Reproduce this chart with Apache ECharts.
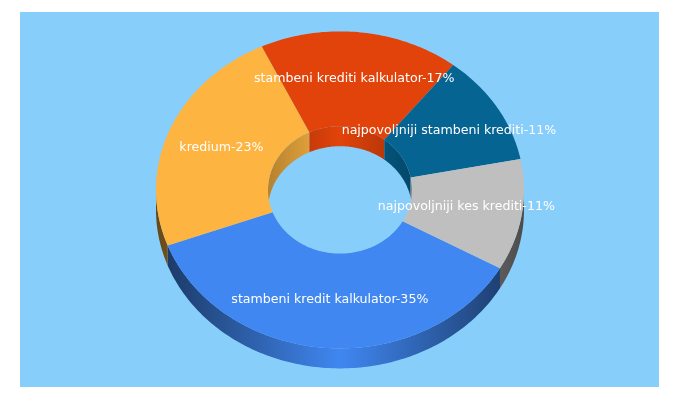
<!DOCTYPE html>
<html>
<head>
<meta charset="utf-8">
<style>html,body{margin:0;padding:0;background:#fff}#c{width:680px;height:400px}</style>
<script src="https://cdn.jsdelivr.net/npm/echarts@6/dist/echarts.min.js"></script>
</head>
<body>
<div id="c"></div>
<script>
const categories = ['stambeni kredit kalkulator', 'kredium', 'stambeni krediti kalkulator', 'najpovoljniji stambeni krediti', 'najpovoljniji kes krediti'];
const values = [35, 23, 17, 11, 11];
const colors = ['#4087f1', '#fdb441', '#e2430a', '#056492', '#bfbfbf'];

const G = { cx: 340, cy: 189.9, rx: 184, ry: 158.5, hx: 72, hy: 63.7, depth: 20, start: 119.6 };
const total = values.reduce((a, b) => a + b, 0);
function sliceAngles(i) {
  let a = G.start;
  for (let k = 0; k < i; k++) a += values[k] / total * 360;
  return [a, a + values[i] / total * 360];
}
function pt(deg, rx, ry, dy) {
  const t = deg * Math.PI / 180;
  return [G.cx + rx * Math.sin(t), G.cy - ry * Math.cos(t) + (dy || 0)];
}
function arc(a0, a1, rx, ry, dy) {
  const n = Math.max(2, Math.ceil(Math.abs(a1 - a0)));
  const out = [];
  for (let j = 0; j <= n; j++) out.push(pt(a0 + (a1 - a0) * j / n, rx, ry, dy));
  return out;
}
function shade(hex, f) {
  const n = parseInt(hex.slice(1), 16);
  const c = [n >> 16 & 255, n >> 8 & 255, n & 255].map(v => Math.round(v * f));
  return 'rgb(' + c.join(',') + ')';
}
function wallFill(color, rx, edge) {
  return {
    type: 'linear', global: true,
    x: G.cx - rx, y: 0, x2: G.cx + rx, y2: 0,
    colorStops: [
      { offset: 0, color: shade(color, edge) },
      { offset: 0.5, color: color },
      { offset: 1, color: shade(color, edge) }
    ]
  };
}
// intersect [a0,a1] with a visible window, also trying full-turn offsets
function clip(a0, a1, w0, w1) {
  const parts = [];
  for (const off of [-360, 0, 360]) {
    const s = Math.max(a0 + off, w0), e = Math.min(a1 + off, w1);
    if (e > s) parts.push([s, e]);
  }
  return parts;
}
function wallGroup(i, rx, ry, w0, w1, edge) {
  const [a0, a1] = sliceAngles(i);
  const children = clip(a0, a1, w0, w1).map(([s, e]) => ({
    type: 'polygon',
    shape: { points: arc(s, e, rx, ry, 0).concat(arc(e, s, rx, ry, G.depth)) },
    style: { fill: wallFill(colors[i], rx, edge) },
    silent: true
  }));
  return { type: 'group', children };
}
const seriesData = values.map((v, i) => [v, i]);
const option = {
  animation: false,
  graphic: [{ type: 'rect', z: -10, silent: true, shape: { x: 20, y: 12, width: 639, height: 375 }, style: { fill: '#87cefa' } }],
  series: [
    { type: 'custom', coordinateSystem: 'none', z: 1, silent: true, data: seriesData,
      renderItem: (p) => wallGroup(p.dataIndex, G.rx, G.ry, 90, 270, 0.4) },
    { type: 'custom', coordinateSystem: 'none', z: 2, silent: true, data: seriesData,
      renderItem: (p) => wallGroup(p.dataIndex, G.hx, G.hy, -90, 90, 0.72) },
    { type: 'custom', coordinateSystem: 'none', z: 3, silent: true, data: seriesData,
      renderItem: (p) => {
        const [a0, a1] = sliceAngles(p.dataIndex);
        return {
          type: 'polygon',
          shape: { points: arc(a0, a1, G.rx, G.ry).concat(arc(a1, a0, G.hx, G.hy)) },
          style: { fill: colors[p.dataIndex] },
          silent: true
        };
      } },
    { type: 'custom', coordinateSystem: 'none', z: 4, silent: true, data: seriesData,
      renderItem: (p, api) => {
        const [a0, a1] = sliceAngles(p.dataIndex);
        const m = pt((a0 + a1) / 2, (G.rx + G.hx) / 2, (G.ry + G.hy) / 2);
        return {
          type: 'text', x: m[0], y: m[1] - 0.5, silent: true,
          style: {
            text: categories[p.dataIndex] + '-' + api.value(0) + '%',
            fill: '#ffffff', font: '12.6px "DejaVu Sans"', align: 'center', verticalAlign: 'middle'
          }
        };
      } }
  ]
};
const chart = echarts.init(document.getElementById('c'), null, { renderer: 'canvas' });
chart.setOption(option);
</script>
</body>
</html>
